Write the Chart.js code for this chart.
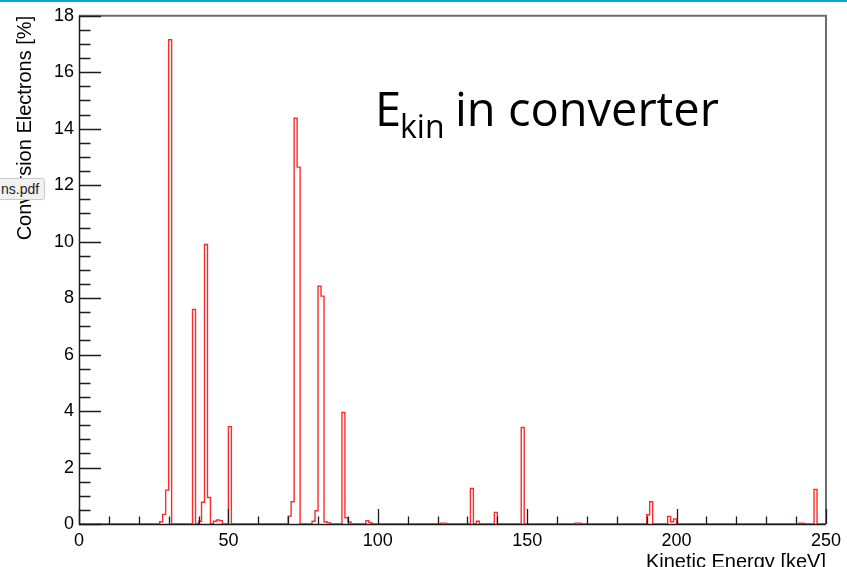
<!DOCTYPE html>
<html>
<head>
<meta charset="utf-8">
<script src="https://cdn.jsdelivr.net/npm/chart.js@4.4.1/dist/chart.umd.min.js"></script>
<style>
  html, body { margin: 0; padding: 0; background: #fff; overflow: hidden; }
  #wrap { position: relative; width: 847px; height: 567px; }
  #topbar { position: absolute; left: 0; top: 0; width: 847px; height: 2px; background: #05a6d8; z-index: 2; }
  #file {
    position: absolute; left: -6px; top: 178px; width: 43px; height: 20px;
    background: #f1f1f1; border: 1px solid #c9c9c9; border-radius: 3px;
    font: 14px "Liberation Sans", Arial, sans-serif; color: #222;
    line-height: 20px; padding-left: 6px; box-sizing: content-box; z-index: 2;
  }
  canvas { position: absolute; left: 0; top: 0; }
</style>
</head>
<body>
<div id="wrap">
  <div id="topbar"></div>
  <canvas id="c" width="847" height="567"></canvas>
  <div id="file">ns.pdf</div>
</div>
<script>
// Histogram of conversion-electron kinetic energies, 1 keV bins.
// Only the non-empty bins are listed (lower edge in keV, content in %).
const binLowKeV = [27, 28, 29, 30, 38, 40, 41, 42, 43, 45, 46, 47, 50,
                   70, 71, 72, 73, 78, 79, 80, 81, 82, 83, 88, 89, 90,
                   96, 97, 121, 122, 131, 133, 139, 148, 166, 167,
                   190, 191, 197, 198, 199, 241, 242, 246];
const convPercent = [0.08, 0.34, 1.2, 17.15, 7.6, 0.1, 0.77, 9.9, 0.94, 0.1, 0.14, 0.12, 3.45,
                     0.28, 0.79, 14.37, 12.64, 0.1, 0.47, 8.42, 8.07, 0.08, 0.05, 3.95, 0.22, 0.07,
                     0.12, 0.05, 0.03, 0.03, 1.26, 0.1, 0.41, 3.42, 0.03, 0.03,
                     0.33, 0.79, 0.27, 0.08, 0.18, 0.03, 0.02, 1.22];
const binWidth = 1;
const energyRange = [0, 250];
const yRange = [0, 18];
const xMajorTicks = [0, 50, 100, 150, 200, 250];
const yMajorTicks = [0, 2, 4, 6, 8, 10, 12, 14, 16, 18];

// Step outline points: each point holds its value until the next x.
function histogramOutline() {
  const pts = [{ x: energyRange[0], y: 0 }];
  binLowKeV.forEach((e, i) => {
    pts.push({ x: e, y: convPercent[i] });
    if (binLowKeV[i + 1] !== e + binWidth) pts.push({ x: e + binWidth, y: 0 });
  });
  pts.push({ x: energyRange[1], y: 0 });
  return pts;
}
const outline = histogramOutline();

const tickFont = { family: '"Liberation Sans", Arial, sans-serif', size: 18 };
const titleFont = { family: '"Liberation Sans", Arial, sans-serif', size: 20, lineHeight: 1 };

// Frame, inward ticks and the annotation text
const rootFrame = {
  id: 'rootFrame',
  afterDatasetsDraw(chart) {
    const { ctx, chartArea: a, scales: { x, y } } = chart;
    ctx.save();
    // top and right frame edges
    ctx.strokeStyle = '#6b6b6b';
    ctx.lineWidth = 2;
    ctx.beginPath();
    ctx.moveTo(a.left, a.top);
    ctx.lineTo(a.right, a.top);
    ctx.lineTo(a.right, a.bottom);
    ctx.stroke();

    ctx.strokeStyle = '#1c1c1c';
    ctx.lineWidth = 1.3;
    // x ticks (major every 50, minor every 10)
    ctx.beginPath();
    for (let v = energyRange[0]; v <= energyRange[1]; v += 10) {
      const px = Math.round(x.getPixelForValue(v)) + 0.5;
      const len = xMajorTicks.includes(v) ? 15 : 7.5;
      ctx.moveTo(px, a.bottom);
      ctx.lineTo(px, a.bottom - len);
    }
    // y ticks (major every 2, minor every 0.5)
    for (let v = yRange[0]; v <= yRange[1] + 1e-9; v += 0.5) {
      const py = Math.round(y.getPixelForValue(v)) + 0.5;
      const len = yMajorTicks.includes(v) ? 22 : 11.5;
      ctx.moveTo(a.left, py);
      ctx.lineTo(a.left + len, py);
    }
    ctx.stroke();

    // left and bottom axis lines
    ctx.lineWidth = 1.5;
    ctx.beginPath();
    ctx.moveTo(a.left + 0.5, a.top);
    ctx.lineTo(a.left + 0.5, a.bottom + 0.5);
    ctx.lineTo(a.right, a.bottom + 0.5);
    ctx.stroke();
    ctx.restore();
  },
  afterDraw(chart) {
    const { ctx } = chart;
    ctx.save();
    ctx.fillStyle = '#000';
    ctx.textBaseline = 'alphabetic';
    ctx.font = '47px "Open Sans", sans-serif';
    ctx.fillText('E', 375, 126);
    ctx.font = '32px "Open Sans", sans-serif';
    ctx.fillText('kin', 400, 138);
    ctx.font = '47px "Open Sans", sans-serif';
    ctx.fillText('in converter', 455, 126);
    ctx.restore();
  }
};

new Chart(document.getElementById('c'), {
  type: 'line',
  data: {
    datasets: [
      { data: outline, stepped: 'before', borderColor: '#ff2a2a', borderWidth: 1.4,
        pointRadius: 0, fill: false, tension: 0 }
    ]
  },
  options: {
    responsive: false,
    animation: false,
    events: [],
    layout: { padding: { left: 0, right: 18, top: 13, bottom: 0 } },
    plugins: { legend: { display: false }, tooltip: { enabled: false } },
    scales: {
      x: {
        type: 'linear', min: energyRange[0], max: energyRange[1],
        afterFit: s => { s.height = 43; },
        grid: { display: false, drawTicks: false },
        border: { display: false },
        ticks: { stepSize: 50, color: '#000', font: tickFont, padding: 6, maxRotation: 0 },
        title: { display: true, text: 'Kinetic Energy [keV]', align: 'end', color: '#000',
                 font: titleFont, padding: { top: 0, bottom: -5 } }
      },
      y: {
        type: 'linear', min: yRange[0], max: yRange[1],
        afterFit: s => { s.width = 79; },
        grid: { display: false, drawTicks: false },
        border: { display: false },
        ticks: { stepSize: 2, color: '#000', font: tickFont, padding: 5 },
        title: { display: true, text: 'Conversion Electrons [%]', align: 'end', color: '#000',
                 font: titleFont, padding: { top: 15, bottom: 0 } }
      }
    }
  },
  plugins: [rootFrame]
});
</script>
</body>
</html>
